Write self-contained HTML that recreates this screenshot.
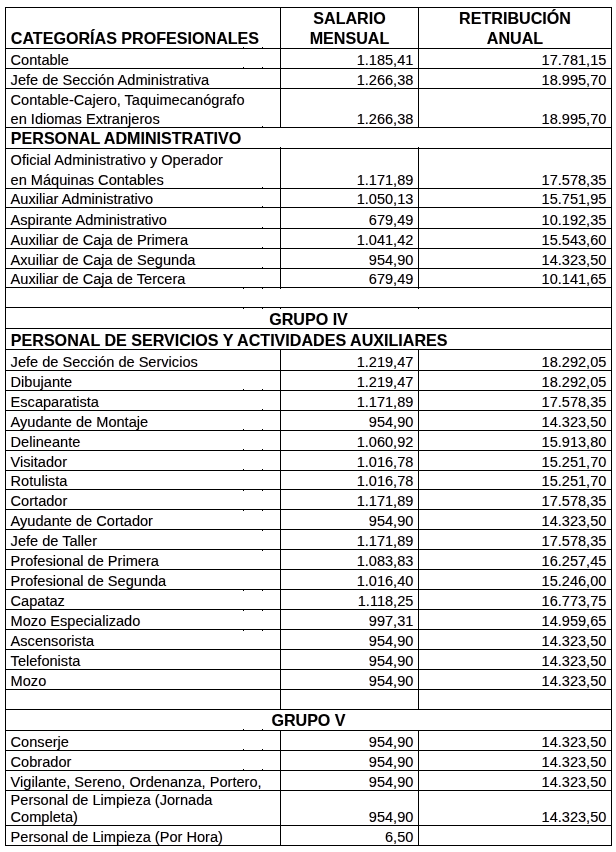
<!DOCTYPE html>
<html lang="es"><head><meta charset="utf-8"><title>Tabla salarial</title>
<style>
html,body{margin:0;padding:0;background:#fff;}
body{width:616px;height:852px;position:relative;overflow:hidden;font-family:"Liberation Sans",sans-serif;color:#000;}
.h,.v{position:absolute;background:#000;}
.h{height:1px;}
.v{width:1px;}
.k{position:absolute;width:1px;height:1px;background:#000;}
.t{position:absolute;white-space:nowrap;line-height:16px;height:16px;font-size:14.58px;-webkit-text-stroke:0;text-shadow:-0.5px 0 0 rgba(255,130,0,.33),0.5px 0 0 rgba(0,90,255,.33);}
.b{font-weight:bold;line-height:18px;height:18px;font-size:16.1px;text-shadow:-0.5px 0 0 rgba(255,130,0,.25),0.5px 0 0 rgba(0,90,255,.25);}
.r{text-align:right;}
.c{text-align:center;}
</style></head><body>
<div class="h" style="left:5px;top:7px;width:607px"></div>
<div class="h" style="left:5px;top:48px;width:607px"></div>
<div class="h" style="left:5px;top:68px;width:607px"></div>
<div class="h" style="left:5px;top:88px;width:607px"></div>
<div class="h" style="left:5px;top:127px;width:607px"></div>
<div class="h" style="left:5px;top:148px;width:607px"></div>
<div class="h" style="left:5px;top:188px;width:607px"></div>
<div class="h" style="left:5px;top:207px;width:607px"></div>
<div class="h" style="left:5px;top:228px;width:607px"></div>
<div class="h" style="left:5px;top:248px;width:607px"></div>
<div class="h" style="left:5px;top:268px;width:607px"></div>
<div class="h" style="left:5px;top:287px;width:607px"></div>
<div class="h" style="left:5px;top:307px;width:607px"></div>
<div class="h" style="left:5px;top:328px;width:607px"></div>
<div class="h" style="left:5px;top:349px;width:607px"></div>
<div class="h" style="left:5px;top:370px;width:607px"></div>
<div class="h" style="left:5px;top:390px;width:607px"></div>
<div class="h" style="left:5px;top:410px;width:607px"></div>
<div class="h" style="left:5px;top:430px;width:607px"></div>
<div class="h" style="left:5px;top:450px;width:607px"></div>
<div class="h" style="left:5px;top:470px;width:607px"></div>
<div class="h" style="left:5px;top:489px;width:607px"></div>
<div class="h" style="left:5px;top:509px;width:607px"></div>
<div class="h" style="left:5px;top:529px;width:607px"></div>
<div class="h" style="left:5px;top:549px;width:607px"></div>
<div class="h" style="left:5px;top:569px;width:607px"></div>
<div class="h" style="left:5px;top:589px;width:607px"></div>
<div class="h" style="left:5px;top:609px;width:607px"></div>
<div class="h" style="left:5px;top:629px;width:607px"></div>
<div class="h" style="left:5px;top:649px;width:607px"></div>
<div class="h" style="left:5px;top:669px;width:607px"></div>
<div class="h" style="left:5px;top:689px;width:607px"></div>
<div class="h" style="left:5px;top:709px;width:607px"></div>
<div class="h" style="left:5px;top:730px;width:607px"></div>
<div class="h" style="left:5px;top:750px;width:607px"></div>
<div class="h" style="left:5px;top:770px;width:607px"></div>
<div class="h" style="left:5px;top:790px;width:607px"></div>
<div class="h" style="left:5px;top:825px;width:607px"></div>
<div class="h" style="left:5px;top:845px;width:607px"></div>
<div class="v" style="left:5px;top:7px;height:839px"></div>
<div class="v" style="left:611px;top:7px;height:839px"></div>
<div class="v" style="left:280px;top:7px;height:121px"></div>
<div class="v" style="left:280px;top:148px;height:140px"></div>
<div class="v" style="left:280px;top:349px;height:361px"></div>
<div class="v" style="left:280px;top:730px;height:116px"></div>
<div class="v" style="left:418px;top:7px;height:121px"></div>
<div class="v" style="left:418px;top:148px;height:140px"></div>
<div class="v" style="left:418px;top:349px;height:361px"></div>
<div class="v" style="left:418px;top:730px;height:116px"></div>
<div class="k" style="left:243px;top:47px"></div>
<div class="k" style="left:262px;top:47px"></div>
<div class="k" style="left:243px;top:67px"></div>
<div class="k" style="left:262px;top:67px"></div>
<div class="k" style="left:262px;top:126px"></div>
<div class="k" style="left:262px;top:187px"></div>
<div class="k" style="left:262px;top:206px"></div>
<div class="k" style="left:262px;top:227px"></div>
<div class="k" style="left:262px;top:247px"></div>
<div class="k" style="left:262px;top:267px"></div>
<div class="k" style="left:243px;top:288px"></div>
<div class="k" style="left:262px;top:288px"></div>
<div class="k" style="left:243px;top:308px"></div>
<div class="k" style="left:262px;top:308px"></div>
<div class="k" style="left:243px;top:389px"></div>
<div class="k" style="left:262px;top:389px"></div>
<div class="k" style="left:262px;top:409px"></div>
<div class="k" style="left:243px;top:429px"></div>
<div class="k" style="left:262px;top:429px"></div>
<div class="k" style="left:243px;top:449px"></div>
<div class="k" style="left:262px;top:449px"></div>
<div class="k" style="left:243px;top:469px"></div>
<div class="k" style="left:262px;top:469px"></div>
<div class="k" style="left:243px;top:490px"></div>
<div class="k" style="left:262px;top:490px"></div>
<div class="k" style="left:243px;top:510px"></div>
<div class="k" style="left:262px;top:510px"></div>
<div class="k" style="left:262px;top:530px"></div>
<div class="k" style="left:262px;top:550px"></div>
<div class="k" style="left:243px;top:590px"></div>
<div class="k" style="left:262px;top:590px"></div>
<div class="k" style="left:243px;top:610px"></div>
<div class="k" style="left:262px;top:610px"></div>
<div class="k" style="left:243px;top:630px"></div>
<div class="k" style="left:262px;top:630px"></div>
<div class="k" style="left:243px;top:729px"></div>
<div class="k" style="left:262px;top:729px"></div>
<div class="k" style="left:243px;top:749px"></div>
<div class="k" style="left:262px;top:749px"></div>
<div class="k" style="left:243px;top:769px"></div>
<div class="k" style="left:262px;top:769px"></div>
<div class="k" style="left:280px;top:308px"></div>
<div class="k" style="left:418px;top:308px"></div>
<div class="k" style="left:280px;top:147px"></div>
<div class="k" style="left:418px;top:147px"></div>
<div class="k" style="left:280px;top:288px"></div>
<div class="k" style="left:418px;top:288px"></div>
<div class="t " style="left:10.6px;top:52.00px">Contable</div>
<div class="t r" style="left:280px;width:133.39999999999998px;top:52.00px">1.185,41</div>
<div class="t r" style="left:418px;width:188.39999999999998px;top:52.00px">17.781,15</div>
<div class="t " style="left:10.6px;top:72.00px">Jefe de Sección Administrativa</div>
<div class="t r" style="left:280px;width:133.39999999999998px;top:72.00px">1.266,38</div>
<div class="t r" style="left:418px;width:188.39999999999998px;top:72.00px">18.995,70</div>
<div class="t " style="left:10.6px;top:111.00px">en Idiomas Extranjeros</div>
<div class="t r" style="left:280px;width:133.39999999999998px;top:111.00px">1.266,38</div>
<div class="t r" style="left:418px;width:188.39999999999998px;top:111.00px">18.995,70</div>
<div class="t " style="left:10.6px;top:172.00px">en Máquinas Contables</div>
<div class="t r" style="left:280px;width:133.39999999999998px;top:172.00px">1.171,89</div>
<div class="t r" style="left:418px;width:188.39999999999998px;top:172.00px">17.578,35</div>
<div class="t " style="left:10.6px;top:191.00px">Auxiliar Administrativo</div>
<div class="t r" style="left:280px;width:133.39999999999998px;top:191.00px">1.050,13</div>
<div class="t r" style="left:418px;width:188.39999999999998px;top:191.00px">15.751,95</div>
<div class="t " style="left:10.6px;top:212.00px">Aspirante Administrativo</div>
<div class="t r" style="left:280px;width:133.39999999999998px;top:212.00px">679,49</div>
<div class="t r" style="left:418px;width:188.39999999999998px;top:212.00px">10.192,35</div>
<div class="t " style="left:10.6px;top:232.00px">Auxiliar de Caja de Primera</div>
<div class="t r" style="left:280px;width:133.39999999999998px;top:232.00px">1.041,42</div>
<div class="t r" style="left:418px;width:188.39999999999998px;top:232.00px">15.543,60</div>
<div class="t " style="left:10.6px;top:252.00px">Axuiliar de Caja de Segunda</div>
<div class="t r" style="left:280px;width:133.39999999999998px;top:252.00px">954,90</div>
<div class="t r" style="left:418px;width:188.39999999999998px;top:252.00px">14.323,50</div>
<div class="t " style="left:10.6px;top:271.00px">Auxiliar de Caja de Tercera</div>
<div class="t r" style="left:280px;width:133.39999999999998px;top:271.00px">679,49</div>
<div class="t r" style="left:418px;width:188.39999999999998px;top:271.00px">10.141,65</div>
<div class="t " style="left:10.6px;top:354.00px">Jefe de Sección de Servicios</div>
<div class="t r" style="left:280px;width:133.39999999999998px;top:354.00px">1.219,47</div>
<div class="t r" style="left:418px;width:188.39999999999998px;top:354.00px">18.292,05</div>
<div class="t " style="left:10.6px;top:374.00px">Dibujante</div>
<div class="t r" style="left:280px;width:133.39999999999998px;top:374.00px">1.219,47</div>
<div class="t r" style="left:418px;width:188.39999999999998px;top:374.00px">18.292,05</div>
<div class="t " style="left:10.6px;top:394.00px">Escaparatista</div>
<div class="t r" style="left:280px;width:133.39999999999998px;top:394.00px">1.171,89</div>
<div class="t r" style="left:418px;width:188.39999999999998px;top:394.00px">17.578,35</div>
<div class="t " style="left:10.6px;top:414.00px">Ayudante de Montaje</div>
<div class="t r" style="left:280px;width:133.39999999999998px;top:414.00px">954,90</div>
<div class="t r" style="left:418px;width:188.39999999999998px;top:414.00px">14.323,50</div>
<div class="t " style="left:10.6px;top:434.00px">Delineante</div>
<div class="t r" style="left:280px;width:133.39999999999998px;top:434.00px">1.060,92</div>
<div class="t r" style="left:418px;width:188.39999999999998px;top:434.00px">15.913,80</div>
<div class="t " style="left:10.6px;top:454.00px">Visitador</div>
<div class="t r" style="left:280px;width:133.39999999999998px;top:454.00px">1.016,78</div>
<div class="t r" style="left:418px;width:188.39999999999998px;top:454.00px">15.251,70</div>
<div class="t " style="left:10.6px;top:473.00px">Rotulista</div>
<div class="t r" style="left:280px;width:133.39999999999998px;top:473.00px">1.016,78</div>
<div class="t r" style="left:418px;width:188.39999999999998px;top:473.00px">15.251,70</div>
<div class="t " style="left:10.6px;top:493.00px">Cortador</div>
<div class="t r" style="left:280px;width:133.39999999999998px;top:493.00px">1.171,89</div>
<div class="t r" style="left:418px;width:188.39999999999998px;top:493.00px">17.578,35</div>
<div class="t " style="left:10.6px;top:513.00px">Ayudante de Cortador</div>
<div class="t r" style="left:280px;width:133.39999999999998px;top:513.00px">954,90</div>
<div class="t r" style="left:418px;width:188.39999999999998px;top:513.00px">14.323,50</div>
<div class="t " style="left:10.6px;top:533.00px">Jefe de Taller</div>
<div class="t r" style="left:280px;width:133.39999999999998px;top:533.00px">1.171,89</div>
<div class="t r" style="left:418px;width:188.39999999999998px;top:533.00px">17.578,35</div>
<div class="t " style="left:10.6px;top:553.00px">Profesional de Primera</div>
<div class="t r" style="left:280px;width:133.39999999999998px;top:553.00px">1.083,83</div>
<div class="t r" style="left:418px;width:188.39999999999998px;top:553.00px">16.257,45</div>
<div class="t " style="left:10.6px;top:573.00px">Profesional de Segunda</div>
<div class="t r" style="left:280px;width:133.39999999999998px;top:573.00px">1.016,40</div>
<div class="t r" style="left:418px;width:188.39999999999998px;top:573.00px">15.246,00</div>
<div class="t " style="left:10.6px;top:593.00px">Capataz</div>
<div class="t r" style="left:280px;width:133.39999999999998px;top:593.00px">1.118,25</div>
<div class="t r" style="left:418px;width:188.39999999999998px;top:593.00px">16.773,75</div>
<div class="t " style="left:10.6px;top:613.00px">Mozo Especializado</div>
<div class="t r" style="left:280px;width:133.39999999999998px;top:613.00px">997,31</div>
<div class="t r" style="left:418px;width:188.39999999999998px;top:613.00px">14.959,65</div>
<div class="t " style="left:10.6px;top:633.00px">Ascensorista</div>
<div class="t r" style="left:280px;width:133.39999999999998px;top:633.00px">954,90</div>
<div class="t r" style="left:418px;width:188.39999999999998px;top:633.00px">14.323,50</div>
<div class="t " style="left:10.6px;top:653.00px">Telefonista</div>
<div class="t r" style="left:280px;width:133.39999999999998px;top:653.00px">954,90</div>
<div class="t r" style="left:418px;width:188.39999999999998px;top:653.00px">14.323,50</div>
<div class="t " style="left:10.6px;top:673.00px">Mozo</div>
<div class="t r" style="left:280px;width:133.39999999999998px;top:673.00px">954,90</div>
<div class="t r" style="left:418px;width:188.39999999999998px;top:673.00px">14.323,50</div>
<div class="t " style="left:10.6px;top:734.00px">Conserje</div>
<div class="t r" style="left:280px;width:133.39999999999998px;top:734.00px">954,90</div>
<div class="t r" style="left:418px;width:188.39999999999998px;top:734.00px">14.323,50</div>
<div class="t " style="left:10.6px;top:754.00px">Cobrador</div>
<div class="t r" style="left:280px;width:133.39999999999998px;top:754.00px">954,90</div>
<div class="t r" style="left:418px;width:188.39999999999998px;top:754.00px">14.323,50</div>
<div class="t " style="left:10.6px;top:774.00px">Vigilante, Sereno, Ordenanza, Portero,</div>
<div class="t r" style="left:280px;width:133.39999999999998px;top:774.00px">954,90</div>
<div class="t r" style="left:418px;width:188.39999999999998px;top:774.00px">14.323,50</div>
<div class="t " style="left:10.6px;top:809.00px">Completa)</div>
<div class="t r" style="left:280px;width:133.39999999999998px;top:809.00px">954,90</div>
<div class="t r" style="left:418px;width:188.39999999999998px;top:809.00px">14.323,50</div>
<div class="t " style="left:10.6px;top:829.00px">Personal de Limpieza (Por Hora)</div>
<div class="t r" style="left:280px;width:133.39999999999998px;top:829.00px">6,50</div>
<div class="t " style="left:10.6px;top:92.00px">Contable-Cajero, Taquimecanógrafo</div>
<div class="t " style="left:10.6px;top:152.00px">Oficial Administrativo y Operador</div>
<div class="t " style="left:10.6px;top:792.00px">Personal de Limpieza (Jornada</div>
<div class="t b" style="left:10.8px;top:129.00px">PERSONAL ADMINISTRATIVO</div>
<div class="t b" style="left:10.8px;top:331.00px">PERSONAL DE SERVICIOS Y ACTIVIDADES AUXILIARES</div>
<div class="t b" style="left:10.8px;top:29.00px">CATEGORÍAS PROFESIONALES</div>
<div class="t b c" style="left:199.5px;width:300px;top:9.00px">SALARIO</div>
<div class="t b c" style="left:199.5px;width:300px;top:29.00px">MENSUAL</div>
<div class="t b c" style="left:365px;width:300px;top:9.00px">RETRIBUCIÓN</div>
<div class="t b c" style="left:365px;width:300px;top:29.00px">ANUAL</div>
<div class="t b c" style="left:158.5px;width:300px;top:310.00px">GRUPO IV</div>
<div class="t b c" style="left:158.5px;width:300px;top:711.00px">GRUPO V</div>
</body></html>
